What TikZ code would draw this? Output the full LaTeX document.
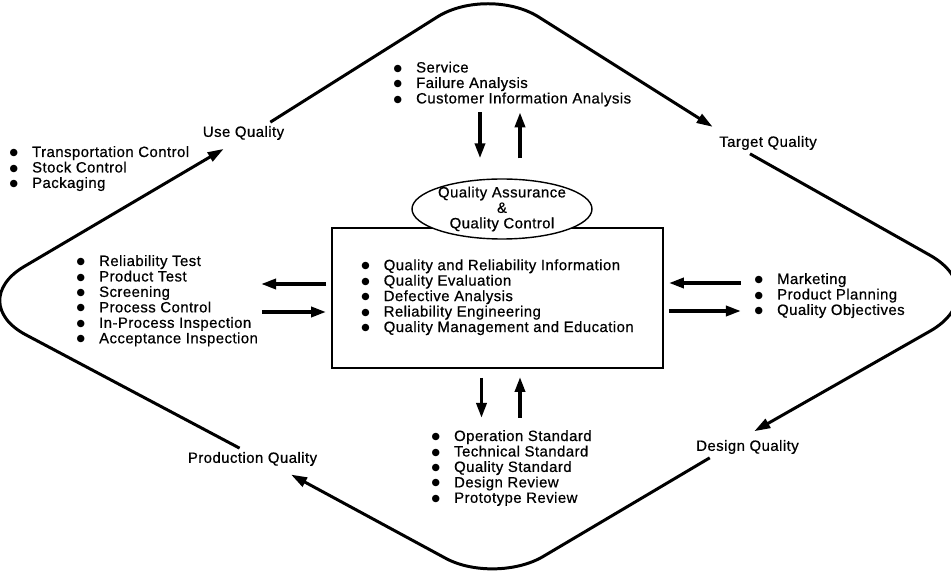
\documentclass[tikz,border=0pt]{standalone}
\usepackage{fontspec}
\setmainfont{Liberation Sans}[FakeBold=0.6,LetterSpace=3]
\newfontfamily\symfont{DejaVu Sans}
\usetikzlibrary{arrows.meta,shapes.geometric}

\newcommand{\itm}{\makebox[0.45cm][l]{\raisebox{0.8pt}{\fontsize{5.5}{5.5}\symfont ●}}}
\newcommand{\blist}[1]{\begin{tabular}[t]{@{}l@{}}#1\end{tabular}}

\begin{document}
\begin{tikzpicture}[x=0.02cm,y=-0.02cm,
  every node/.style={font=\fontsize{8.5}{8.8}\selectfont},
  lbl/.style={inner sep=2pt},
  lst/.style={inner sep=0pt,anchor=base west},
  loopline/.style={line width=1.7pt,shorten >=0.2cm,-{Triangle[length=0.32cm,width=0.2cm]}},
  arr/.style={line width=2pt,-{Triangle[length=0.3cm,width=0.2cm]}}]
  \useasboundingbox (0,0) rectangle (951,574);

  % centre block
  \node[draw,line width=1.1pt,minimum width=6.62cm,minimum height=2.8cm,inner sep=0pt] (main) at (497.5,298)
    {\begin{tabular}{@{}l@{}}\itm Quality and Reliability Information\\\itm Quality Evaluation\\\itm Defective Analysis\\\itm Reliability Engineering\\\itm Quality Management and Education\end{tabular}};
  \node[draw,ellipse,fill=white,line width=0.8pt,inner xsep=-2.5pt,inner ysep=-1pt,minimum width=3.6cm,minimum height=1.2cm,align=center] (qa) at (502,209)
    {Quality Assurance\\\&\\Quality Control};

  % quality labels
  \node[lbl] (use) at (243.5,133) {Use Quality};
  \node[lbl] (target) at (768,143) {Target Quality};
  \node[lbl] (design) at (747.5,447) {Design Quality};
  \node[lbl] (prod) at (252.5,459) {Production Quality};

  % corners of the loop
  \coordinate (ctop) at (488,-15);
  \coordinate (cright) at (997,293);
  \coordinate (cbot) at (495,585);
  \coordinate (cleft) at (-36,302);

  \draw[loopline,rounded corners=1.2cm] (use.22) -- (ctop) -- (target.167);
  \draw[loopline,rounded corners=1.54cm] (target.211) -- (cright) -- (design.100);
  \draw[loopline,rounded corners=1.12cm] (design.196) -- (cbot) -- (prod.340);
  \draw[loopline,rounded corners=1.4cm] (prod.140) -- (cleft) -- (use.224);

  % lists
  \node[lst] (tlist) at (393.3,72.5) {\blist{\itm Service\\\itm Failure Analysis\\\itm Customer Information Analysis}};
  \node[lst] (ulist) at (9.3,157) {\blist{\itm Transportation Control\\\itm Stock Control\\\itm Packaging}};
  \node[lst] (plist) at (76.3,266) {\blist{\itm Reliability Test\\\itm Product Test\\\itm Screening\\\itm Process Control\\\itm In-Process Inspection\\\itm Acceptance Inspection}};
  \node[lst] (dlist) at (754.3,284) {\blist{\itm Marketing\\\itm Product Planning\\\itm Quality Objectives}};
  \node[lst] (slist) at (431.3,441) {\blist{\itm Operation Standard\\\itm Technical Standard\\\itm Quality Standard\\\itm Design Review\\\itm Prototype Review}};

  % flows to and from the centre
  \draw[arr] (qa.north) ++(-22,-66) -- ++(0,46);
  \draw[arr] (qa.north) ++(18,-20) -- ++(0,-46);
  \draw[arr] (main.south) ++(-16,9) -- ++(0,40);
  \draw[arr] (main.south) ++(22.5,49) -- ++(0,-41);
  \draw[arr] (main.west) ++(-5,-14) -- ++(-65,0);
  \draw[arr] (main.west) ++(-69,14) -- ++(64,0);
  \draw[arr] (main.east) ++(77,-15) -- ++(-72,0);
  \draw[arr] (main.east) ++(5,13) -- ++(72,0);
\end{tikzpicture}
\end{document}
